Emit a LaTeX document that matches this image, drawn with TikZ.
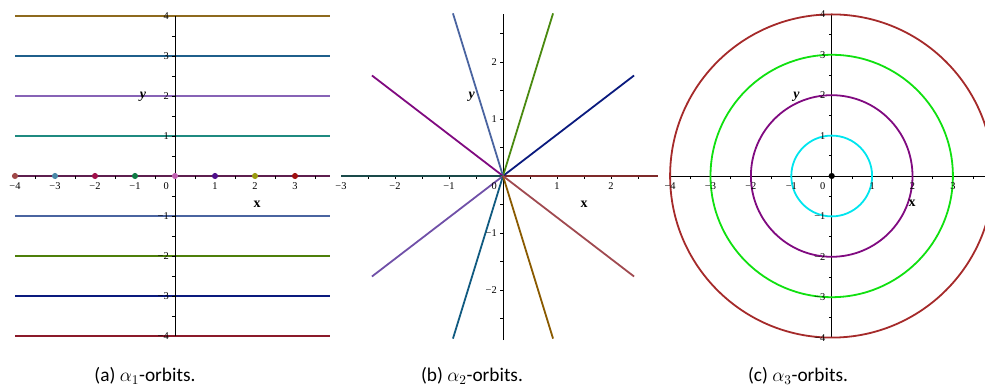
\documentclass[tikz,border=0pt]{standalone}
\usepackage{fontspec}
\setmainfont{Liberation Serif}
\newfontfamily\capfont{Carlito}
\usepackage{tikz}
\usetikzlibrary{positioning}
\definecolor{cGold}{HTML}{8E6A1E}
\definecolor{cSteel}{HTML}{1F5F8B}
\definecolor{cLilac}{HTML}{8763B6}
\definecolor{cTeal}{HTML}{1F8A80}
\definecolor{cPlum}{HTML}{5E1F4F}
\definecolor{cSlate}{HTML}{4A64A0}
\definecolor{cOlive}{HTML}{4E7F0A}
\definecolor{cNavy}{HTML}{0A1A7E}
\definecolor{cWine}{HTML}{8B1A2A}
\definecolor{cRose}{HTML}{A04848}
\definecolor{cSky}{HTML}{4A88A8}
\definecolor{cCrimson}{HTML}{A0104A}
\definecolor{cGreen}{HTML}{107A45}
\definecolor{cOrchid}{HTML}{C060B0}
\definecolor{cIndigo}{HTML}{50108A}
\definecolor{cMustard}{HTML}{9A9A10}
\definecolor{cRed}{HTML}{A01010}
\definecolor{cMaroon}{HTML}{7E2A2A}
\definecolor{cLeaf}{HTML}{4A8A10}
\definecolor{cPurple}{HTML}{800A80}
\definecolor{cDkTeal}{HTML}{1A4A4A}
\definecolor{cViolet}{HTML}{7050A8}
\definecolor{cOcean}{HTML}{105A80}
\definecolor{cOchre}{HTML}{8A5A00}
\definecolor{cRosy}{HTML}{A04A50}
\definecolor{cCyan}{HTML}{00E5EE}
\definecolor{cLime}{HTML}{10E010}
\definecolor{cBrick}{HTML}{A52A2A}

\begin{document}
\begin{tikzpicture}[
    x=0.75pt, y=0.75pt,
    orbit/.style={line width=1.35pt},
    axis/.style={line width=0.55pt, black},
    tickmark/.style={line width=0.45pt, black},
    xlab/.style={font=\fontsize{7.8}{8}\selectfont, inner sep=0pt, anchor=north, yshift=-4.5pt},
    ylab/.style={font=\fontsize{7.8}{8}\selectfont, inner sep=0pt, anchor=east, xshift=-4.5pt},
    zlab/.style={font=\fontsize{7.8}{8}\selectfont, inner sep=0pt, anchor=north east, xshift=-4.5pt, yshift=-4.5pt},
    axlab/.style={font=\fontsize{10.5}{12}\selectfont\bfseries, inner sep=0pt},
    dot/.style={circle, inner sep=0pt, minimum size=4.6pt},
    caption/.style={font=\capfont\fontsize{14.5}{16}\selectfont, inner sep=0pt, anchor=base}
]
\useasboundingbox (0,0) rectangle (985,388);

\begin{scope}[shift={(175,212)}, x=30pt, y=30pt]
\draw[axis] (-4,0) -- (3.875,0);
\foreach \k/\c in {4/cGold, 3/cSteel, 2/cLilac, 1/cTeal, 0/cPlum, -1/cSlate, -2/cOlive, -3/cNavy, -4/cWine}
  \draw[orbit, color=\c] (-4,\k) -- (3.875,\k);
\draw[axis] (0,-4) -- (0,4);
\foreach \t in {-3.5,-3,...,3.5} \draw[tickmark] (\t,0) -- ++(0,-1.9pt);
\foreach \t in {-3.5,-3,...,3.5} \draw[tickmark] (0,\t) -- ++(-1.9pt,0);
\foreach \k/\t [count=\i] in {-4/−4, -3/−3, -2/−2, -1/−1, 1/1, 2/2, 3/3}
  \node[xlab] (ax\i) at (\k,0) {\t};
\foreach \k/\t [count=\i] in {4/4, 3/3, 2/2, 1/1, -1/−1, -2/−2, -3/−3, -4/−4}
  \node[ylab] (ay\i) at (0,\k) {\t};
\node[zlab] (az) at (0,0) {0};
\foreach \k/\c [count=\i] in {-4/cRose, -3/cSky, -2/cCrimson, -1/cGreen, 0/cOrchid, 1/cIndigo, 2/cMustard, 3/cRed}
  \node[dot, fill=\c] (pa\i) at (\k,0) {};
\node[axlab] (ya) at (-0.8,1.975) {\textit{y}};
\node[axlab] (xa) at (2.05,-0.7) {x};
\end{scope}

\begin{scope}[shift={(503,212)}, x=40.5pt, y=42.75pt]
\draw[axis] (-3,0) -- (2.87,0);
\draw[axis] (0,-2.88) -- (0,2.84);
\foreach \t in {-2.5,-2,...,2.5} \draw[tickmark] (\t,0) -- ++(0,-1.9pt);
\foreach \t in {-2.5,-2,...,2.5} \draw[tickmark] (0,\t) -- ++(-1.9pt,0);
\begin{scope}
\clip (-3,-2.88) rectangle (2.87,2.86);
\foreach \a/\c in {0/cMaroon, 36/cNavy, 72/cLeaf, 108/cSlate, 144/cPurple, 180/cDkTeal, 216/cViolet, 252/cOcean, 288/cOchre, 324/cRosy}
  \draw[orbit, color=\c] (0,0) -- ({3*cos(\a)},{3*sin(\a)});
\end{scope}
\foreach \k/\t [count=\i] in {-3/−3, -2/−2, -1/−1, 1/1, 2/2}
  \node[xlab] (bx\i) at (\k,0) {\t};
\foreach \k/\t [count=\i] in {2/2, 1/1, -1/−1, -2/−2}
  \node[ylab] (by\i) at (0,\k) {\t};
\node[zlab] (bz) at (0,0) {0};
\node[axlab] (yb) at (-0.58,1.386) {\textit{y}};
\node[axlab] (xb) at (1.5,-0.49) {x};
\end{scope}

\begin{scope}[shift={(831.7,212)}, x=30.3pt, y=30.3pt]
\draw[axis] (-4,0) -- (3.8,0);
\draw[axis] (0,-4) -- (0,4);
\foreach \t in {-3.5,-3,...,3.5} \draw[tickmark] (\t,0) -- ++(0,-1.9pt);
\foreach \t in {-3.5,-3,...,3.5} \draw[tickmark] (0,\t) -- ++(-1.9pt,0);
\begin{scope}
\clip (-4.1,-4.1) rectangle (3.8,4.1);
\foreach \r/\c in {1/cCyan, 2/cPurple, 3/cLime, 4/cBrick}
  \draw[orbit, color=\c] (0,0) circle[radius=\r];
\end{scope}
\foreach \k/\t [count=\i] in {-4/−4, -3/−3, -2/−2, -1/−1, 1/1, 2/2, 3/3}
  \node[xlab] (cx\i) at (\k,0) {\t};
\foreach \k/\t [count=\i] in {4/4, 3/3, 2/2, 1/1, -1/−1, -2/−2, -3/−3, -4/−4}
  \node[ylab] (cy\i) at (0,\k) {\t};
\node[zlab] (cz) at (0,0) {0};
\node[dot, fill=black] (pc) at (0,0) {};
\node[axlab] (yc) at (-0.87,1.96) {\textit{y}};
\node[axlab] (xc) at (1.99,-0.67) {x};
\end{scope}

\node[caption] (capa) at (145,6) {(a) $\alpha_1$-orbits.};
\node[caption] (capb) at (472,6) {(b) $\alpha_2$-orbits.};
\node[caption] (capc) at (798,6) {(c) $\alpha_3$-orbits.};
\end{tikzpicture}
\end{document}
